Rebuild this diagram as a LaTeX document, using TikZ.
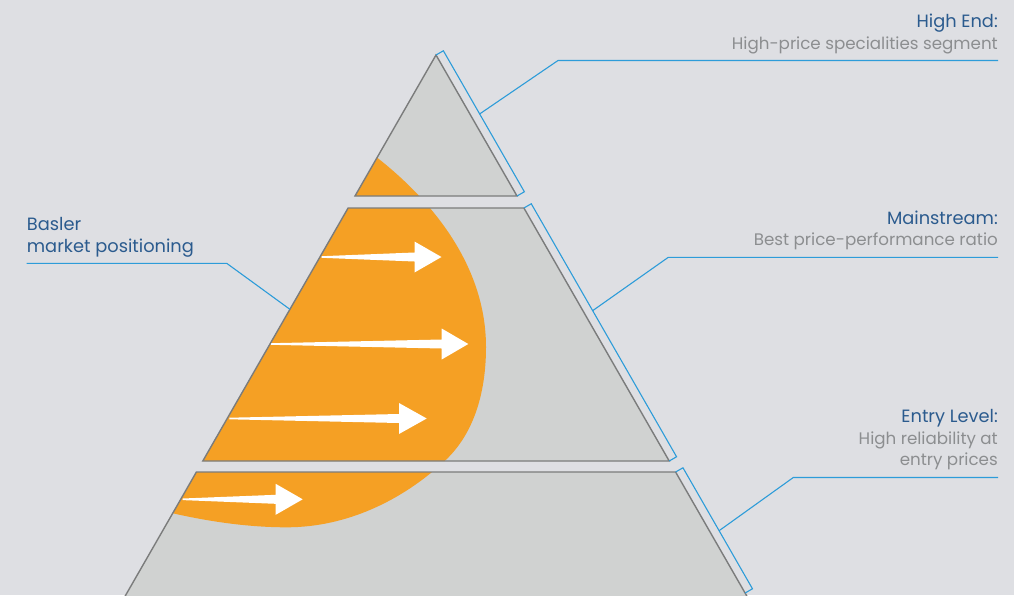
\documentclass[tikz,border=0pt]{standalone}
\usepackage{fontspec}
\setmainfont{Poppins}
\usetikzlibrary{calc}
\definecolor{bgc}{HTML}{DEDFE3}
\definecolor{pyrc}{HTML}{D0D2D1}
\definecolor{orangec}{HTML}{F5A024}
\definecolor{edgec}{HTML}{7B7C7C}
\definecolor{bluec}{HTML}{2D9CD9}
\definecolor{titlec}{HTML}{2B5B8E}
\definecolor{subc}{HTML}{8C8E90}
\newcommand\wharrow[4]{%
  \fill[white] (#1,{#2-0.8}) -- (#3,{#2-4.5}) -- (#3,{#2-15.5}) -- (#4,#2)
    -- (#3,{#2+15.5}) -- (#3,{#2+4.5}) -- (#1,{#2+0.8}) -- cycle;}
\tikzset{
  leader/.style={draw=bluec, line width=1.1pt, line join=miter},
  outline/.style={draw=edgec, line width=1.4pt, line join=miter},
  title/.style={font=\fontsize{17.8}{20}\selectfont, text=titlec, inner sep=0pt},
  sub/.style={font=\fontsize{16.7}{20}\selectfont, text=subc, inner sep=0pt},
}
\begin{document}
\begin{tikzpicture}[x=1pt,y=-1pt]
\fill[bgc] (0,0) rectangle (1014,595);
\useasboundingbox (0,0) rectangle (1014,595);
\clip (0,0) rectangle (1014,595);
% pyramid corners
\coordinate (a0) at (436,55);
\coordinate (a1) at (355,196);  \coordinate (a2) at (517,196);
\coordinate (b0) at (348.1,208); \coordinate (b1) at (523.9,208);
\coordinate (b2) at (669.2,461); \coordinate (b3) at (202.8,461);
\coordinate (c0) at (196.4,472); \coordinate (c1) at (675.6,472);
\coordinate (c2) at (749.1,600); \coordinate (c3) at (122.9,600);
% gray pieces
\fill[pyrc] (a0) -- (a2) -- (a1) -- cycle;
\fill[pyrc] (b0) -- (b1) -- (b2) -- (b3) -- cycle;
\fill[pyrc] (c0) -- (c1) -- (c2) -- (c3) -- cycle;
% orange positioning area
\begin{scope}
\clip (a0) -- (a2) -- (a1) -- cycle
      (b0) -- (b1) -- (b2) -- (b3) -- cycle
      (c0) -- (c1) -- (c2) -- (c3) -- cycle;
\fill[orangec] (353.1,138.8) -- (376.7,157.3)
  .. controls (437.3,204.8) and (486,270) .. (486,347)
  .. controls (486,389) and (475.7,432.1) .. (445,460.7)
  .. controls (401.7,501.0) and (346,527.3) .. (286.7,527.3)
  .. controls (249.7,527.3) and (212.1,522) .. (176,514)
  -- (131,504.1) -- (0,504.1) -- (0,138.8) -- cycle;
\wharrow{321.7}{257}{414.5}{441.5}
\wharrow{270.7}{344}{441.7}{468.3}
\wharrow{229.3}{418.5}{399}{426.7}
\wharrow{182.7}{499.3}{275.7}{302.7}
\end{scope}
% outlines
\path[outline] (a0) -- (a2) -- (a1) -- cycle;
\path[outline] (b0) -- (b1) -- (b2) -- (b3) -- cycle;
\path[outline] (c0) -- (c1) -- (c2) -- (c3) -- cycle;
% brackets
\coordinate (t1) at ($(a0)+(7.37,-4.23)$); \coordinate (t2) at ($(a2)+(7.37,-4.23)$);
\coordinate (m1) at ($(b1)+(7.37,-4.23)$); \coordinate (m2) at ($(b2)+(7.37,-4.23)$);
\coordinate (bq) at (745.1,593);
\coordinate (e1) at ($(c1)+(7.37,-4.23)$); \coordinate (e2) at ($(bq)+(7.37,-4.23)$);
\path[leader] (a0) -- (t1) -- (t2) -- (a2);
\path[leader] (b1) -- (m1) -- (m2) -- (b2);
\path[leader] (c1) -- (e1) -- (e2) -- (bq);
% labels
\node[title, anchor=base east] (hiT) at (998,27.3) {High End:};
\node[sub, anchor=base east] (hiS) at (998,49.3) {High-price specialities segment};
\node[title, anchor=base east] (msT) at (998,224.3) {Mainstream:};
\node[sub, anchor=base east] (msS) at (998,245.7) {Best price-performance ratio};
\node[title, anchor=base east] (elT) at (998,422.7) {Entry Level:};
\node[sub, anchor=base east] (elS1) at (998,444.3) {High reliability at};
\node[sub, anchor=base east] (elS2) at (998,465.7) {entry prices};
\node[title, anchor=base west] (bsT1) at (26.7,230.7) {Basler};
\node[title, anchor=base west] (bsT2) at (26.7,252.7) {market positioning};
% leader lines
\coordinate (hiE) at (998,60.5);  \coordinate (hiK) at (558,60.5);
\coordinate (msE) at (998,257.3); \coordinate (msK) at (668.3,257.3);
\coordinate (elE) at (998,477.5); \coordinate (elK) at (793.3,477.5);
\coordinate (bsE) at (26.7,263.3); \coordinate (bsK) at (226.7,263.3);
\coordinate (bsP) at (289.9,309.3);
\path[leader] (hiE) -- (hiK) -- ($(t1)!0.448!(t2)$);
\path[leader] (msE) -- (msK) -- ($(m1)!0.4225!(m2)$);
\path[leader] (elE) -- (elK) -- ($(e1)!0.52!(e2)$);
\path[leader] (bsE) -- (bsK) -- (bsP);
\end{tikzpicture}
\end{document}
